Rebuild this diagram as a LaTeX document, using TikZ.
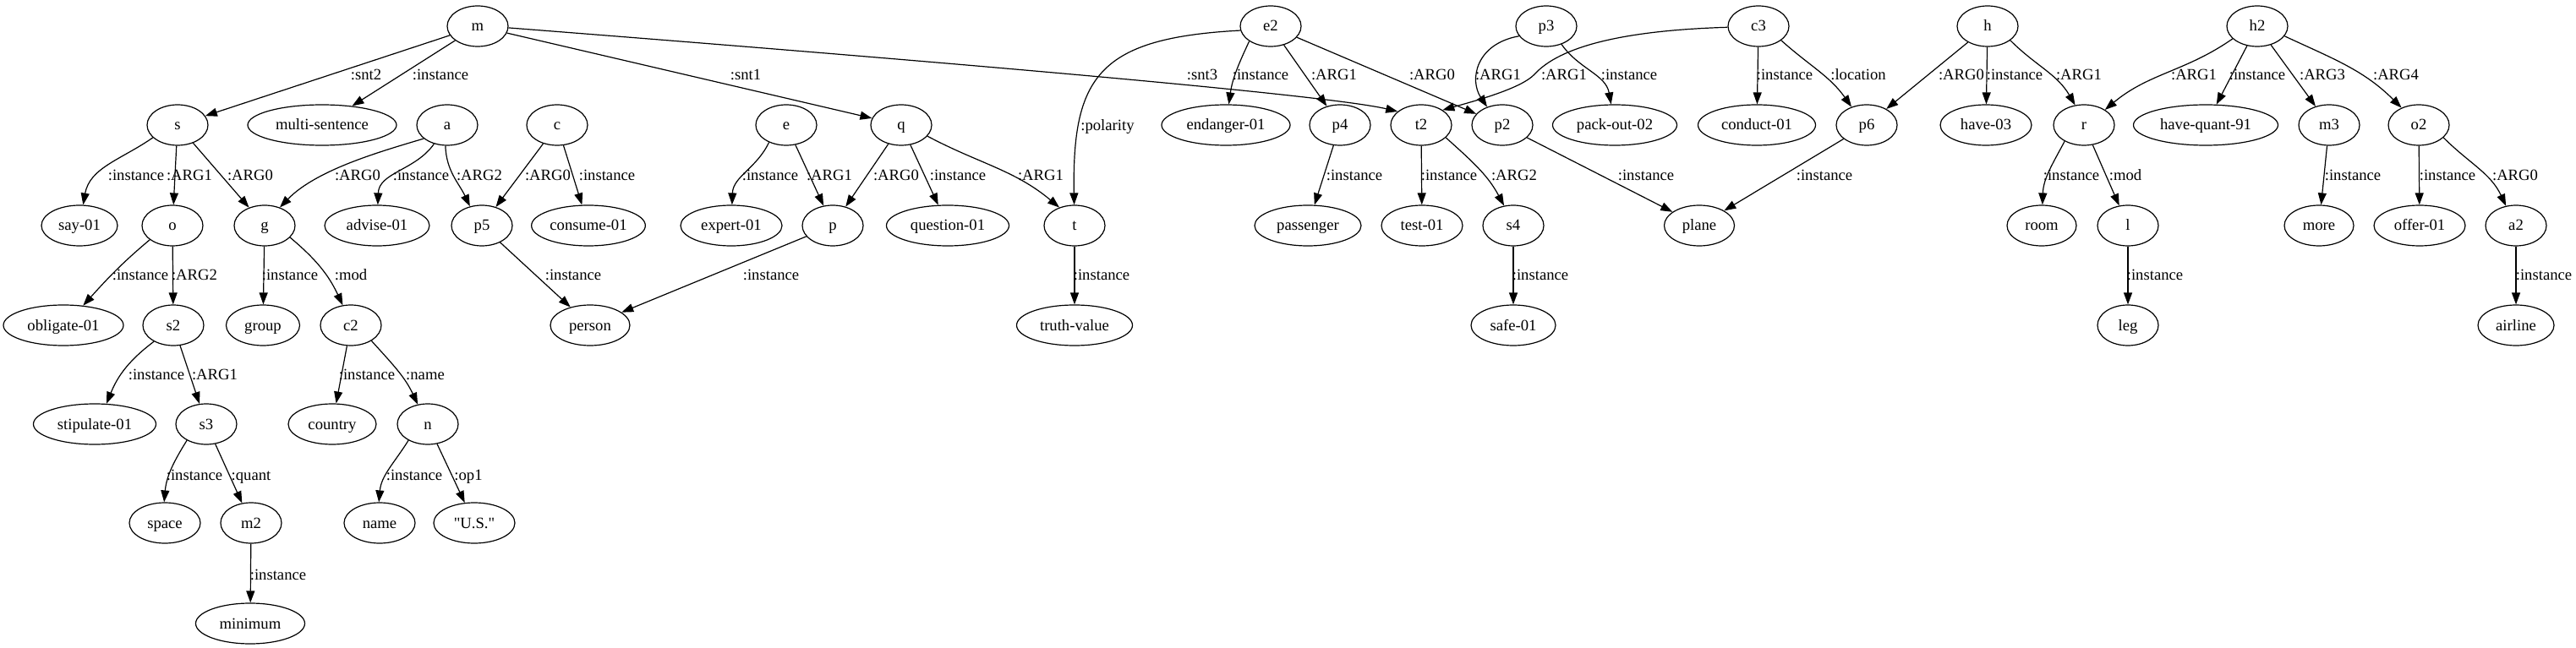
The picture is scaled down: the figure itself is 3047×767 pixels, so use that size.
\documentclass[tikz,border=0pt]{standalone}
\usepackage{fontspec}
\setmainfont{Liberation Serif}
\usetikzlibrary{shapes.geometric,arrows.meta}
\tikzset{
  nd/.style={draw, ellipse, line width=1.2pt, minimum width=72pt, minimum height=48pt,
    inner xsep=2pt, inner ysep=2pt, text height=13pt, text depth=1pt,
    font=\fontsize{18.67pt}{22pt}\selectfont},
  lbl/.style={inner sep=0pt, text height=13pt, text depth=1pt,
    font=\fontsize{18.67pt}{22pt}\selectfont},
  arr/.style={line width=1.2pt, -{Triangle[length=14pt,width=10pt]}},
}
\begin{document}
\begin{tikzpicture}[x=1pt,y=1pt]
\useasboundingbox (0,0) rectangle (3047,-767);
% row 1
\node[nd] (m) at (565,-31) {m};
\node[nd] (e2) at (1503,-31) {e2};
\node[nd] (p3) at (1829,-31) {p3};
\node[nd] (c3) at (2080,-31) {c3};
\node[nd] (h) at (2351,-31) {h};
\node[nd] (h2) at (2670,-31) {h2};
% row 2
\node[nd] (s) at (210,-148) {s};
\node[nd, minimum width=176pt] (ms) at (381,-148) {multi-sentence};
\node[nd] (a) at (529,-148) {a};
\node[nd] (c) at (659,-148) {c};
\node[nd] (e) at (930,-148) {e};
\node[nd] (q) at (1066,-148) {q};
\node[nd, minimum width=152pt] (endg) at (1450,-148) {endanger-01};
\node[nd] (p4) at (1585,-148) {p4};
\node[nd] (t2) at (1681,-148) {t2};
\node[nd] (p2) at (1777,-148) {p2};
\node[nd, minimum width=147pt] (pack) at (1910,-148) {pack-out-02};
\node[nd, minimum width=139pt] (cond) at (2078,-148) {conduct-01};
\node[nd] (p6) at (2208,-148) {p6};
\node[nd, minimum width=108pt] (hv) at (2349,-148) {have-03};
\node[nd] (r) at (2465,-148) {r};
\node[nd, minimum width=171pt] (hq) at (2609,-148) {have-quant-91};
\node[nd] (m3) at (2755,-148) {m3};
\node[nd] (o2) at (2861,-148) {o2};
% row 3
\node[nd, minimum width=90pt] (say) at (94,-267) {say-01};
\node[nd] (o) at (204,-267) {o};
\node[nd] (g) at (313,-267) {g};
\node[nd, minimum width=124pt] (adv) at (446,-267) {advise-01};
\node[nd] (p5) at (570,-267) {p5};
\node[nd, minimum width=134pt] (cons) at (696,-267) {consume-01};
\node[nd, minimum width=120pt] (exp) at (865,-267) {expert-01};
\node[nd] (p) at (985,-267) {p};
\node[nd, minimum width=145pt] (ques) at (1121,-267) {question-01};
\node[nd] (t) at (1271,-267) {t};
\node[nd, minimum width=126pt] (pass) at (1547,-267) {passenger};
\node[nd, minimum width=96pt] (test) at (1682,-267) {test-01};
\node[nd] (s4) at (1790,-267) {s4};
\node[nd, minimum width=83pt] (plane) at (2010,-267) {plane};
\node[nd, minimum width=82pt] (room) at (2415,-267) {room};
\node[nd] (l) at (2517,-267) {l};
\node[nd, minimum width=82pt] (more) at (2743,-267) {more};
\node[nd, minimum width=108pt] (offer) at (2862,-267) {offer-01};
\node[nd] (a2) at (2976,-267) {a2};
% row 4
\node[nd, minimum width=142pt] (obl) at (75,-385) {obligate-01};
\node[nd] (s2) at (205,-385) {s2};
\node[nd, minimum width=87pt] (grp) at (311,-385) {group};
\node[nd] (c2) at (415,-385) {c2};
\node[nd, minimum width=94pt] (pers) at (698,-385) {person};
\node[nd, minimum width=137pt] (tv) at (1271,-385) {truth-value};
\node[nd, minimum width=100pt] (safe) at (1790,-385) {safe-01};
\node[nd] (leg) at (2517,-385) {leg};
\node[nd, minimum width=90pt] (airl) at (2976,-385) {airline};
% row 5
\node[nd, minimum width=145pt] (stip) at (112,-502) {stipulate-01};
\node[nd] (s3) at (244,-502) {s3};
\node[nd, minimum width=104pt] (ctry) at (393,-502) {country};
\node[nd] (n) at (506,-502) {n};
% row 6
\node[nd, minimum width=84pt] (space) at (195,-619) {space};
\node[nd] (m2) at (297,-619) {m2};
\node[nd, minimum width=84pt] (nm) at (449,-619) {name};
\node[nd, minimum width=96pt] (us) at (561,-619) {\textquotedbl U.S.\textquotedbl};
% row 7
\node[nd, minimum width=129pt] (min) at (296,-738) {minimum};

% edges
\draw[arr] (m) -- (s);
\draw[arr] (m) -- (ms);
\draw[arr] (m) -- (q);
\draw[arr] (m.-3) .. controls (1000,-64) and (1560,-110) .. (t2.150);
\draw[arr] (s.-153) to[out=-145,in=80] (say);
\draw[arr] (s) -- (o);
\draw[arr] (s) -- (g);
\draw[arr] (a.-150) .. controls (455,-178) and (375,-200) .. (g.50);
\draw[arr] (a.-125) to[out=-125,in=88] (adv);
\draw[arr] (a.-95) to[out=-88,in=115] (p5.122);
\draw[arr] (c) -- (p5);
\draw[arr] (c) -- (cons);
\draw[arr] (e.-135) to[out=-115,in=88] (exp);
\draw[arr] (e) -- (p);
\draw[arr] (q) -- (p);
\draw[arr] (q) -- (ques);
\draw[arr] (q.-23) to[out=-28,in=140] (t.130);
\draw[arr] (e2.-172) .. controls (1300,-45) and (1268,-90) .. (t);
\draw[arr] (e2.-145) to[out=-115,in=82] (endg);
\draw[arr] (e2) -- (p4);
\draw[arr] (e2) -- (p2);
\draw[arr] (p3.-160) .. controls (1745,-52) and (1738,-95) .. (p2.130);
\draw[arr] (p3.-50) to[out=-55,in=100] (pack);
\draw[arr] (c3.182) .. controls (1920,-36) and (1845,-55) .. (1815,-88)
   .. controls (1800,-104) and (1750,-118) .. (t2.35);
\draw[arr] (c3) -- (cond);
\draw[arr] (c3.-32) to[out=-42,in=125] (p6.130);
\draw[arr] (h) -- (p6);
\draw[arr] (h) -- (hv);
\draw[arr] (h.-32) to[out=-45,in=120] (r.114);
\draw[arr] (h2.-153) to[out=-145,in=40] (r.36);
\draw[arr] (h2) -- (hq);
\draw[arr] (h2) -- (m3);
\draw[arr] (h2.-20) to[out=-25,in=135] (o2.135);
\draw[arr] (o.-148) to[out=-140,in=48] (obl.45);
\draw[arr] (o) -- (s2);
\draw[arr] (g) -- (grp);
\draw[arr] (g.-25) to[out=-40,in=115] (c2.112);
\draw[arr] (p5) -- (pers);
\draw[arr] (p) -- (pers);
\draw[arr] (t) -- (tv);
\draw[arr] (p4) -- (pass);
\draw[arr] (t2) -- (test);
\draw[arr] (t2.-27) to[out=-42,in=118] (s4.115);
\draw[arr] (p2) -- (plane);
\draw[arr] (s4) -- (safe);
\draw[arr] (p6) -- (plane);
\draw[arr] (r.-140) to[out=-118,in=88] (room);
\draw[arr] (r) -- (l);
\draw[arr] (m3) -- (more);
\draw[arr] (o2) -- (offer);
\draw[arr] (o2.-27) to[out=-45,in=115] (a2.117);
\draw[arr] (l) -- (leg);
\draw[arr] (a2) -- (airl);
\draw[arr] (s2.-140) to[out=-143,in=68] (stip.60);
\draw[arr] (s2) -- (s3);
\draw[arr] (c2) -- (ctry);
\draw[arr] (c2.-37) to[out=-48,in=115] (n.117);
\draw[arr] (s3.-140) to[out=-122,in=85] (space.92);
\draw[arr] (s3) -- (m2);
\draw[arr] (n.-140) to[out=-122,in=85] (nm.92);
\draw[arr] (n) -- (us);
\draw[arr] (m2) -- (min);

% edge labels
\foreach \x/\y/\t [count=\i] in {
  433/89/:snt2, 521/89/:instance, 882/89/:snt1, 1422/89/:snt3, 1491/89/:instance,
  1578/89/:ARG1, 1694/89/:ARG0, 1772/89/:ARG1, 1850/89/:ARG1, 1927/89/:instance,
  2111/89/:instance, 2198/89/:location, 2320/89/:ARG0, 2383/89/:instance, 2459/89/:ARG1,
  2595/89/:ARG1, 2670/89/:instance, 2747/89/:ARG3, 2834/89/:ARG4, 1310/149/:polarity,
  161/208/:instance, 224/208/:ARG1, 296/208/:ARG0, 423/208/:ARG0, 498/208/:instance,
  567/208/:ARG2, 648/208/:ARG0, 718/208/:instance, 911/208/:instance, 981/208/:ARG1,
  1060/208/:ARG0, 1133/208/:instance, 1231/208/:ARG1, 1602/208/:instance, 1714/208/:instance,
  1791/208/:ARG2, 1947/208/:instance, 2158/208/:instance, 2450/208/:instance, 2514/208/:mod,
  2783/208/:instance, 2895/208/:instance, 2975/208/:ARG0,
  166/325/:instance, 230/325/:ARG2, 343/325/:instance, 415/325/:mod, 678/325/:instance,
  912/325/:instance, 1303/325/:instance, 1822/325/:instance, 2549/325/:instance, 3009/325/:instance,
  185/443/:instance, 254/443/:ARG1, 434/443/:instance, 503/443/:name,
  230/562/:instance, 297/562/:quant, 490/562/:instance, 554/562/:op1,
  329/680/:instance}
  \node[lbl] (lb\i) at (\x,-\y) {\t};
\end{tikzpicture}
\end{document}
